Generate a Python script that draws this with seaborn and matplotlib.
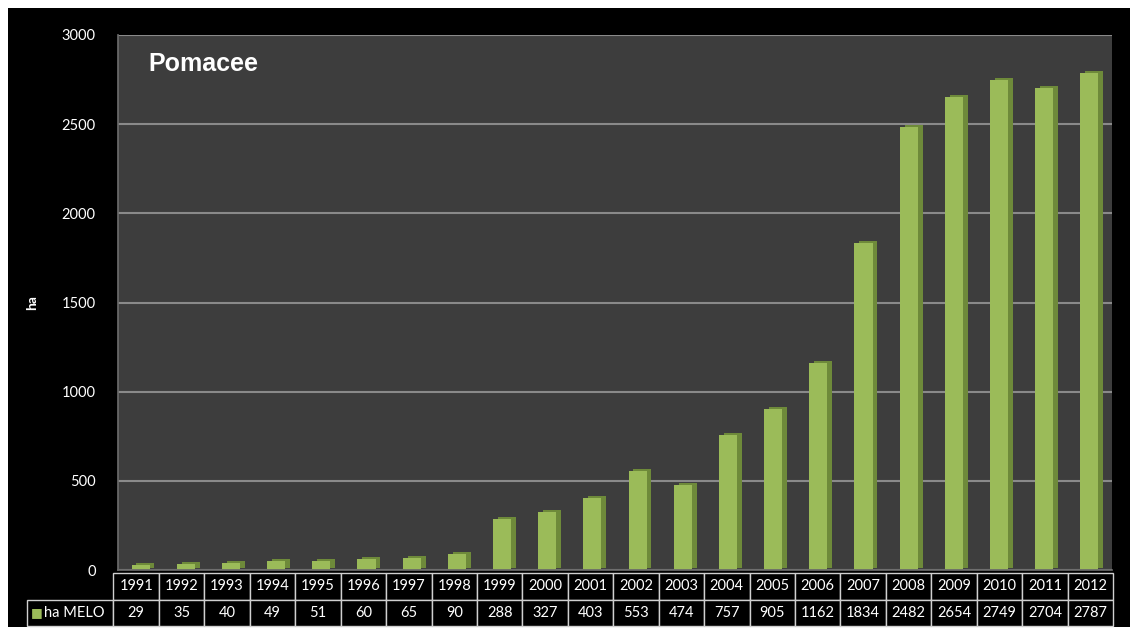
import matplotlib
matplotlib.use("Agg")
import matplotlib.pyplot as plt
import matplotlib.patheffects as pe
from matplotlib.patches import Rectangle
import seaborn as sns
import pandas as pd

years = ["1991", "1992", "1993", "1994", "1995", "1996", "1997", "1998", "1999", "2000", "2001",
         "2002", "2003", "2004", "2005", "2006", "2007", "2008", "2009", "2010", "2011", "2012"]
ha_melo = [29, 35, 40, 49, 51, 60, 65, 90, 288, 327, 403, 553, 474, 757, 905, 1162, 1834,
           2482, 2654, 2749, 2704, 2787]
series_label = "ha MELO"
title = "Pomacee"
y_label = "ha"
y_ticks = [0, 500, 1000, 1500, 2000, 2500, 3000]

df = pd.DataFrame({"year": years, "ha": ha_melo})

sns.set_theme(style="dark")
plt.rcParams["font.family"] = ["Lato", "DejaVu Sans"]

W, H = 1130, 634
fig = plt.figure(figsize=(W / 100, H / 100), dpi=100, facecolor="white")
fig.patches.append(Rectangle((8 / W, (H - 627) / H), (W - 8) / W, (627 - 8) / H,
                             transform=fig.transFigure, facecolor="black", edgecolor="none", zorder=-10))

ax_l, ax_r, ax_t, ax_b = 118, 1112, 35, 570
ax = fig.add_axes([ax_l / W, (H - ax_b) / H, (ax_r - ax_l) / W, (ax_b - ax_t) / H])
ax.set_facecolor("#3d3d3d")
axw = ax_r - ax_l
axh = ax_b - ax_t

green = "#9bbb59"
sns.barplot(data=df, x="year", y="ha", color=green, width=0.4, ax=ax, saturation=1,
            edgecolor="none")
for p in ax.patches:
    p.set_path_effects([pe.SimplePatchShadow(offset=(3.5, 1.5), shadow_rgbFace="#6e8a3a", alpha=1.0),
                        pe.Normal()])

ax.set_xlim(-0.5, len(years) - 0.5)
ax.set_ylim(0, 3000)
ax.set_yticks(y_ticks)
ax.set_yticklabels([str(v) for v in y_ticks], color="white", fontsize=10.5)
ax.tick_params(axis="y", length=0, pad=16)
ax.set_xticks([])
ax.set_xlabel("")
ax.set_ylabel(y_label, color="white", fontsize=10, fontweight="bold")
ax.yaxis.set_label_coords(-(ax_l - 38) / axw, 0.5)
ax.grid(axis="y", color="#8a8a8a", linewidth=1.5)
ax.set_axisbelow(True)
for s in ax.spines.values():
    s.set_visible(False)
ax.spines["left"].set_visible(True)
ax.spines["left"].set_color("#6a6a6a")
ax.spines["bottom"].set_visible(True)
ax.spines["bottom"].set_color("#6a6a6a")

ax.text(0.031, 0.945, title, transform=ax.transAxes, color="white", fontsize=18,
        fontweight="bold", family="Liberation Sans", va="center", ha="left")

# data table
lab_w = (ax_l - 5 - 27) / axw
cell_text = [[""] + years, [""] + [str(v) for v in ha_melo]]
col_w = [lab_w * 22] + [1.0] * len(years)
tbl = ax.table(cellText=cell_text, colWidths=col_w, cellLoc="center",
               bbox=[-lab_w - 5 / axw, -(626 - ax_b) / axh, 1.0 + lab_w + 6 / axw, 53 / axh])
tbl.auto_set_font_size(False)
tbl.set_fontsize(10.5)
for (r, c), cell in tbl.get_celld().items():
    cell.set_facecolor("black")
    cell.set_edgecolor("#d0d0d0")
    cell.set_linewidth(1.0)
    cell.get_text().set_color("white")
    if r == 0 and c == 0:
        cell.visible_edges = ""
ax.text(-(ax_l - 31) / axw, -(613 - ax_b) / axh, "■", transform=ax.transAxes, color=green,
        fontsize=9, va="center", ha="left", family="DejaVu Sans")
ax.text(-(ax_l - 44) / axw, -(613 - ax_b) / axh, series_label, transform=ax.transAxes,
        color="white", fontsize=10.5, va="center", ha="left")

fig.savefig("out.png", dpi=100, facecolor="white")
